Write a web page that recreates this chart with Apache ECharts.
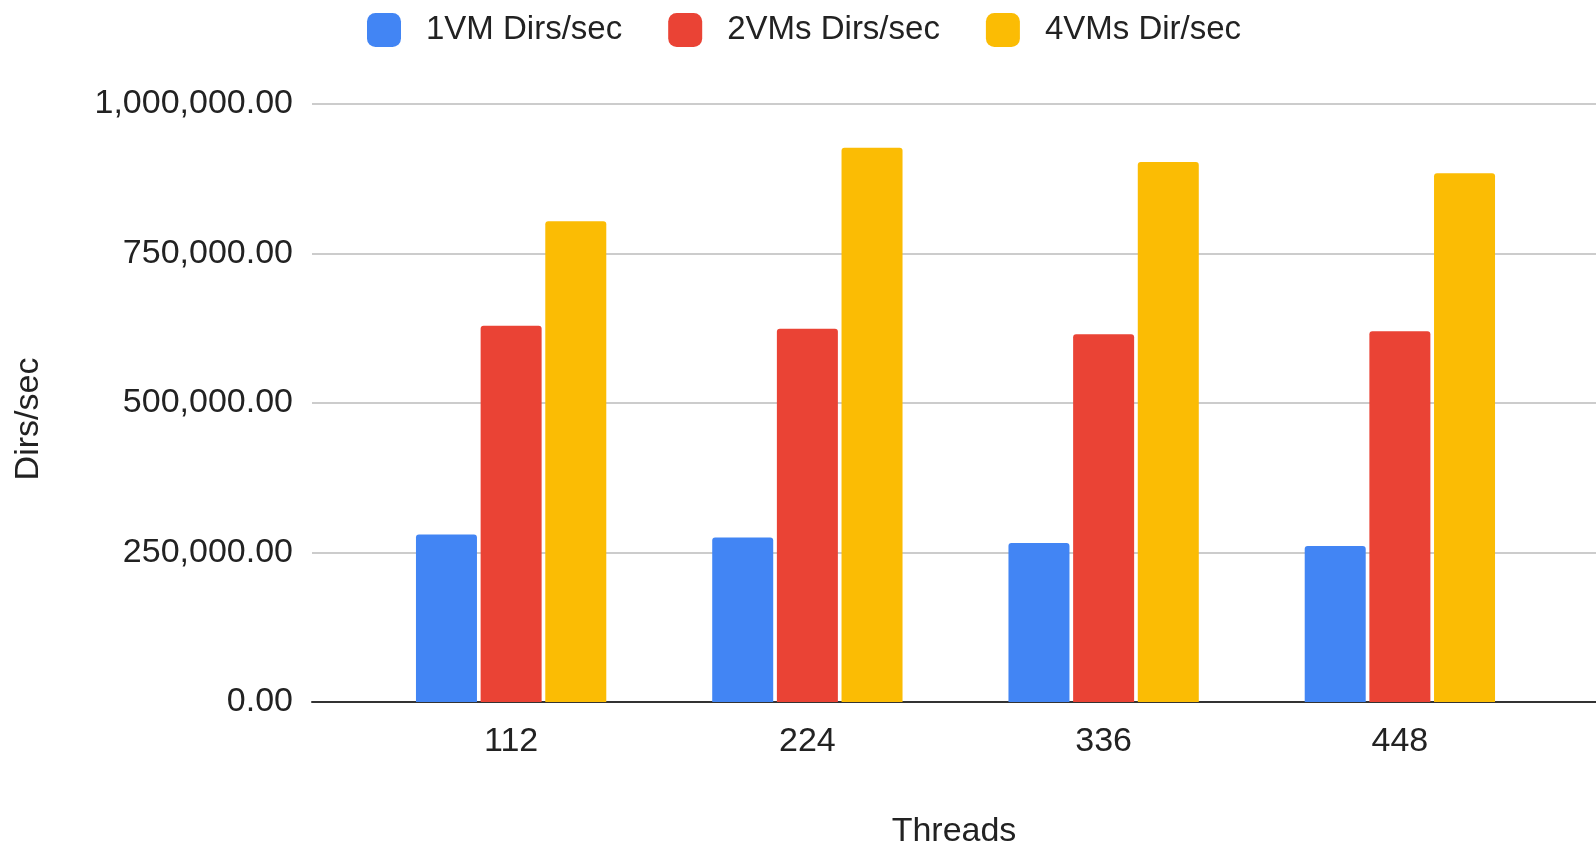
<!DOCTYPE html>
<html>
<head>
<meta charset="utf-8">
<script src="https://cdn.jsdelivr.net/npm/echarts@6/dist/echarts.min.js"></script>
<style>
  html, body { margin: 0; padding: 0; background: #fff; }
  #chart { width: 1596px; height: 844px; }
</style>
</head>
<body>
<div id="chart"></div>
<script>
// Thread counts on the x axis
const categories = ['112', '224', '336', '448'];

// Directory creation rate per configuration
const oneVM = [280000, 275000, 266000, 261000];
const twoVMs = [629000, 624000, 615000, 620000];
const fourVMs = [804000, 927000, 903000, 884000];

const seriesNames = ['1VM Dirs/sec', '2VMs Dirs/sec', '4VMs Dir/sec'];
const yTicks = { min: 0, max: 1000000, interval: 250000 };

const FONT = '"Liberation Sans", Arial, sans-serif';
const TEXT = '#222222';

const chart = echarts.init(document.getElementById('chart'), null, { renderer: 'canvas' });

const barStyle = (color) => ({ color: color, borderRadius: [3, 3, 0, 0] });

chart.setOption({
  backgroundColor: '#ffffff',
  animation: false,
  color: ['#4285F4', '#EA4335', '#FBBC04'],
  legend: {
    data: seriesNames,
    left: 362,
    top: 8,
    icon: 'roundRect',
    itemWidth: 34,
    itemHeight: 34,
    itemGap: 46,
    textStyle: { fontFamily: FONT, fontSize: 33, color: TEXT, padding: [0, 0, 0, 20] }
  },
  grid: [
    // full-width grid: gridlines, baseline and axis titles
    { left: 312, right: 0, top: 104, bottom: 142, outerBoundsMode: 'none', containLabel: false },
    // inset grid holding the bar groups
    { left: 363, right: 48, top: 104, bottom: 142, outerBoundsMode: 'none', containLabel: false }
  ],
  xAxis: [
    {
      gridIndex: 0,
      type: 'value',
      min: 0,
      max: 1,
      axisLine: { show: true, lineStyle: { color: '#333333', width: 2 } },
      axisTick: { show: false },
      axisLabel: { show: false },
      splitLine: { show: false },
      name: 'Threads',
      nameLocation: 'middle',
      nameGap: 113,
      nameTextStyle: { fontFamily: FONT, fontSize: 34, color: TEXT }
    },
    {
      gridIndex: 1,
      type: 'category',
      data: categories,
      axisLine: { show: false },
      axisTick: { show: false },
      axisLabel: { fontFamily: FONT, fontSize: 34, color: TEXT, margin: 23 }
    }
  ],
  yAxis: [
    {
      gridIndex: 0,
      type: 'value',
      min: yTicks.min,
      max: yTicks.max,
      interval: yTicks.interval,
      axisLine: { show: false },
      axisTick: { show: false },
      axisLabel: {
        fontFamily: FONT,
        fontSize: 34,
        color: TEXT,
        margin: 19,
        formatter: (v) => v.toLocaleString('en-US', { minimumFractionDigits: 2, maximumFractionDigits: 2 })
      },
      splitLine: { show: true, lineStyle: { color: '#cccccc', width: 2 } },
      name: 'Dirs/sec',
      nameLocation: 'middle',
      nameGap: 266,
      nameRotate: 90,
      nameTextStyle: { fontFamily: FONT, fontSize: 34, color: TEXT, padding: [0, 32, 0, 0] }
    },
    {
      gridIndex: 1,
      type: 'value',
      min: yTicks.min,
      max: yTicks.max,
      show: false
    }
  ],
  series: [
    { name: seriesNames[0], type: 'bar', xAxisIndex: 1, yAxisIndex: 1, data: oneVM, barWidth: 61, barGap: '6%', itemStyle: barStyle('#4285F4') },
    { name: seriesNames[1], type: 'bar', xAxisIndex: 1, yAxisIndex: 1, data: twoVMs, barWidth: 61, barGap: '6%', itemStyle: barStyle('#EA4335') },
    { name: seriesNames[2], type: 'bar', xAxisIndex: 1, yAxisIndex: 1, data: fourVMs, barWidth: 61, barGap: '6%', itemStyle: barStyle('#FBBC04') }
  ]
});
</script>
</body>
</html>
